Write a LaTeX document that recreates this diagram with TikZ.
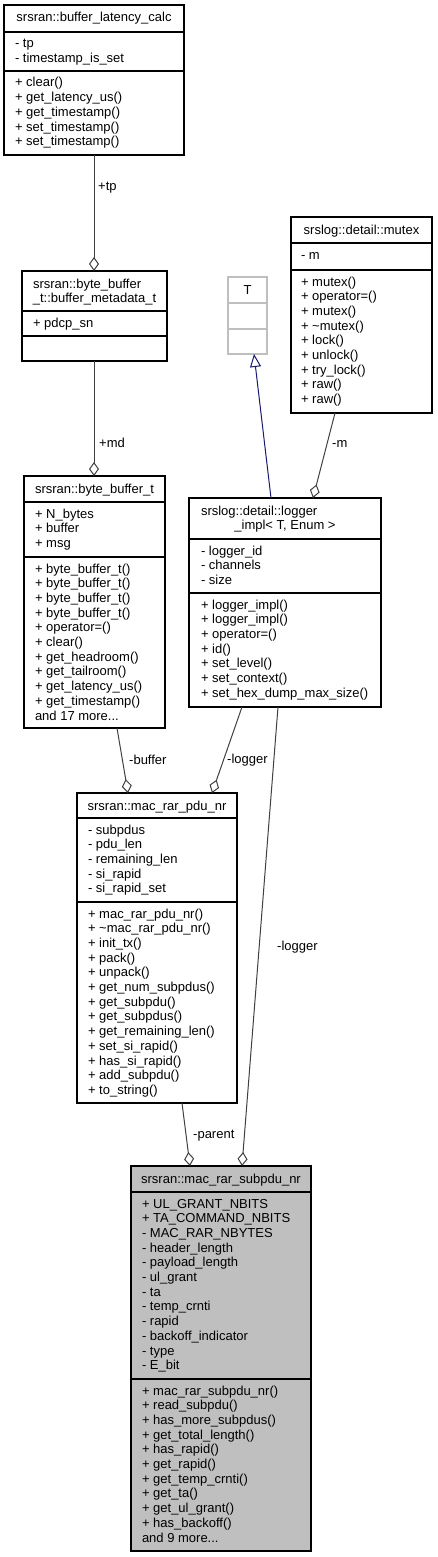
\documentclass[tikz,border=0pt]{standalone}
\usepackage{fontspec}
\setmainfont{Liberation Sans}
\usetikzlibrary{arrows.meta,calc}
\definecolor{edgegray}{HTML}{404040}
\definecolor{inhblue}{HTML}{191970}
\definecolor{boxgray}{HTML}{BFBFBF}
\newcommand\threedots{...}
\newcommand\myrows[4]{%
  \foreach \t [count=\i] in {#4} {\node[txt] (#1\i) at (#2, {#3+(\i-1)*14.7}) {\t};}}
\begin{document}
\begin{tikzpicture}[x=1pt,y=-1pt,
  box/.style={draw=black, line width=1.1pt, inner sep=0pt, outer sep=0pt, anchor=north west, fill=white},
  txt/.style={anchor=base west, inner sep=0pt, outer sep=0pt, font=\fontsize{13}{14.7}\selectfont},
  ttl/.style={anchor=base, inner sep=0pt, outer sep=0pt, font=\fontsize{13}{14.7}\selectfont},
  sep/.style={draw=black, line width=1.1pt},
  agg/.style={draw=edgegray, line width=1pt, -{Diamond[open, fill=white, length=14pt, width=10pt]}},
  inh/.style={draw=inhblue, line width=1pt, -{Triangle[open, fill=white, length=13pt, width=11pt]}},
  lbl/.style={anchor=base west, inner sep=0pt, font=\fontsize{13}{14.7}\selectfont}]
\useasboundingbox (0,0) rectangle (437,1557);

% buffer_latency_calc
\node[box, minimum width=180pt, minimum height=150pt] (blc) at (4,5) {};
\draw[sep] ($(blc.north west)+(0,27)$) -- ($(blc.north east)+(0,27)$);
\draw[sep] ($(blc.north west)+(0,66)$) -- ($(blc.north east)+(0,66)$);
\node[ttl] (blcT) at (94,22) {srsran::buffer\_latency\_calc};
\myrows{blcA}{15}{48}{- tp,- timestamp\_is\_set}
\myrows{blcM}{15}{87}{+ clear(),+ get\_latency\_us(),+ get\_timestamp(),+ set\_timestamp(),+ set\_timestamp()}

% buffer_metadata_t
\node[box, minimum width=145pt, minimum height=90pt] (meta) at (22,271) {};
\draw[sep] ($(meta.north west)+(0,40)$) -- ($(meta.north east)+(0,40)$);
\draw[sep] ($(meta.north west)+(0,65)$) -- ($(meta.north east)+(0,65)$);
\node[txt] (metaT1) at (33,288) {srsran::byte\_buffer};
\node[ttl] (metaT2) at (94.5,302.7) {\_t::buffer\_metadata\_t};
\myrows{metaA}{33}{327}{+ pdcp\_sn}

% byte_buffer_t
\node[box, minimum width=141pt, minimum height=252pt] (bbt) at (24,476) {};
\draw[sep] ($(bbt.north west)+(0,26)$) -- ($(bbt.north east)+(0,26)$);
\draw[sep] ($(bbt.north west)+(0,81)$) -- ($(bbt.north east)+(0,81)$);
\node[ttl] (bbtT) at (94.5,493) {srsran::byte\_buffer\_t};
\myrows{bbtA}{35}{518}{+ N\_bytes,+ buffer,+ msg}
\myrows{bbtM}{35}{573}{+ byte\_buffer\_t(),+ byte\_buffer\_t(),+ byte\_buffer\_t(),+ byte\_buffer\_t(),+ operator=(),+ clear(),+ get\_headroom(),+ get\_tailroom(),+ get\_latency\_us(),+ get\_timestamp(),and 17 more\threedots}

% T
\node[box, draw=boxgray, minimum width=39pt, minimum height=77pt] (tt) at (228,277) {};
\draw[draw=boxgray, line width=1.1pt] ($(tt.north west)+(0,26)$) -- ($(tt.north east)+(0,26)$);
\draw[draw=boxgray, line width=1.1pt] ($(tt.north west)+(0,52)$) -- ($(tt.north east)+(0,52)$);
\node[ttl] (ttT) at (247.5,294) {T};

% mutex
\node[box, minimum width=141pt, minimum height=196pt] (mtx) at (291,217) {};
\draw[sep] ($(mtx.north west)+(0,26)$) -- ($(mtx.north east)+(0,26)$);
\draw[sep] ($(mtx.north west)+(0,53)$) -- ($(mtx.north east)+(0,53)$);
\node[ttl] (mtxT) at (361.5,234) {srslog::detail::mutex};
\myrows{mtxA}{301}{259}{- m}
\myrows{mtxM}{301}{286}{+ mutex(),+ operator=(),+ mutex(),+ \textasciitilde mutex(),+ lock(),+ unlock(),+ try\_lock(),+ raw(),+ raw()}

% logger_impl
\node[box, minimum width=192pt, minimum height=209pt] (lgi) at (189,498) {};
\draw[sep] ($(lgi.north west)+(0,41)$) -- ($(lgi.north east)+(0,41)$);
\draw[sep] ($(lgi.north west)+(0,95)$) -- ($(lgi.north east)+(0,95)$);
\node[txt] (lgiT1) at (201,515) {srslog::detail::logger};
\node[ttl] (lgiT2) at (285,529.7) {\_impl< T, Enum >};
\myrows{lgiA}{201}{555}{- logger\_id,- channels,- size}
\myrows{lgiM}{201}{609}{+ logger\_impl(),+ logger\_impl(),+ operator=(),+ id(),+ set\_level(),+ set\_context(),+ set\_hex\_dump\_max\_size()}

% mac_rar_pdu_nr
\node[box, minimum width=160pt, minimum height=310pt] (pdu) at (77,793) {};
\draw[sep] ($(pdu.north west)+(0,25)$) -- ($(pdu.north east)+(0,25)$);
\draw[sep] ($(pdu.north west)+(0,109)$) -- ($(pdu.north east)+(0,109)$);
\node[ttl] (pduT) at (157,810) {srsran::mac\_rar\_pdu\_nr};
\myrows{pduA}{88}{834}{- subpdus,- pdu\_len,- remaining\_len,- si\_rapid,- si\_rapid\_set}
\myrows{pduM}{88}{918}{+ mac\_rar\_pdu\_nr(),+ \textasciitilde mac\_rar\_pdu\_nr(),+ init\_tx(),+ pack(),+ unpack(),+ get\_num\_subpdus(),+ get\_subpdu(),+ get\_subpdus(),+ get\_remaining\_len(),+ set\_si\_rapid(),+ has\_si\_rapid(),+ add\_subpdu(),+ to\_string()}

% mac_rar_subpdu_nr
\node[box, fill=boxgray, minimum width=180pt, minimum height=385pt] (sub) at (131,1166) {};
\draw[sep] ($(sub.north west)+(0,26)$) -- ($(sub.north east)+(0,26)$);
\draw[sep] ($(sub.north west)+(0,213)$) -- ($(sub.north east)+(0,213)$);
\node[ttl] (subT) at (221,1183) {srsran::mac\_rar\_subpdu\_nr};
\myrows{subA}{142}{1208}{+ UL\_GRANT\_NBITS,+ TA\_COMMAND\_NBITS,- MAC\_RAR\_NBYTES,- header\_length,- payload\_length,- ul\_grant,- ta,- temp\_crnti,- rapid,- backoff\_indicator,- type,- E\_bit}
\myrows{subM}{142}{1395}{+ mac\_rar\_subpdu\_nr(),+ read\_subpdu(),+ has\_more\_subpdus(),+ get\_total\_length(),+ has\_rapid(),+ get\_rapid(),+ get\_temp\_crnti(),+ get\_ta(),+ get\_ul\_grant(),+ has\_backoff(),and 9 more\threedots}

% connectors
\draw[agg] ($(blc.south west)+(90,0)$) -- ($(meta.north west)+(72,0)$);
\node[lbl] (ltp) at (98,191) {+tp};
\draw[agg] ($(meta.south west)+(72,0)$) -- ($(bbt.north west)+(70,0)$);
\node[lbl] (lmd) at (99,447) {+md};
\draw[inh] ($(lgi.north west)+(82,0)$) -- ($(tt.south west)+(26,0)$);
\draw[agg] ($(mtx.south west)+(44,0)$) -- ($(lgi.north west)+(124,0)$);
\node[lbl] (lm) at (332,447) {-m};
\draw[agg] ($(bbt.south west)+(93,0)$) -- ($(pdu.north west)+(51,0)$);
\node[lbl] (lbuf) at (129,764) {-buffer};
\draw[agg] ($(lgi.south west)+(53,0)$) -- ($(pdu.north west)+(135,0)$);
\node[lbl] (llg1) at (227,763) {-logger};
\draw[agg] ($(lgi.south west)+(89,0)$) -- ($(sub.north west)+(111,0)$);
\node[lbl] (llg2) at (277,950) {-logger};
\draw[agg] ($(pdu.south west)+(105,0)$) -- ($(sub.north west)+(59,0)$);
\node[lbl] (lpar) at (193,1138) {-parent};
\end{tikzpicture}
\end{document}
